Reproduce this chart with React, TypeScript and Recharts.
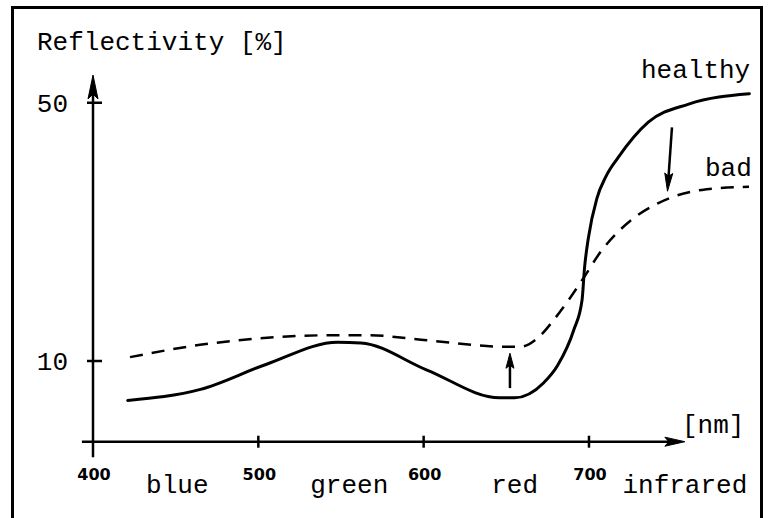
import React from "react";
import { LineChart, Line, XAxis, YAxis, ReferenceLine } from "recharts";

// ---- data ----
const wavelengthTicks = [400, 500, 600, 700];
const reflectTicks = [10, 50];
const bandNames = ["blue", "green", "red", "infrared"];
const bandCenters = [451, 555, 655, 758];

const healthyNm = [421, 465, 505, 548, 562, 602, 646, 655, 672.5, 681, 690.8, 695.8, 697.3, 699.6, 704.8, 710.3, 717.6, 735.9, 760.3, 797];
const healthyPct = [3.9, 5.6, 9.5, 12.9, 12.8, 8.6, 4.3, 4.3, 6.6, 9.3, 14.8, 19.4, 24.4, 29.0, 35.2, 38.6, 41.5, 47.0, 49.8, 51.4];

const badNm = [422.4, 464.7, 547.6, 565.7, 602, 650.4, 658.3, 670.4, 678.8, 686.7, 695.8, 707.3, 725.4, 742.3, 768.3, 796.8];
const badPct = [10.6, 12.5, 14.0, 14.0, 13.2, 12.2, 12.2, 13.9, 16.4, 19.1, 22.5, 27.0, 31.8, 34.5, 36.5, 37.0];

const xDomain = [400, 800];
const yDomain = [-2.5, 54.3];
// axis extents (data units)
const xAxisFrom = 393.3;
const xAxisTo = 758;
const yAxisFrom = -4.9;
const yAxisTo = 54.3;
// annotation arrows (data units)
const downArrow = [{ x: 750.2, y: 46.2 }, { x: 747.5, y: 36.3 }];
const upArrow = [{ x: 652.2, y: 5.8 }, { x: 652.2, y: 11.2 }];

const healthyData = healthyNm.map((nm, i) => ({ nm, r: healthyPct[i] }));
const badData = badNm.map((nm, i) => ({ nm, r: badPct[i] }));
const allXTicks = [...wavelengthTicks, ...bandCenters].sort((a, b) => a - b);

const MONO = "'Liberation Mono', 'DejaVu Sans Mono', monospace";

const makeArrow = (len: number, half: number, notch: number, w: number) => (props: any) => {
  const { x1, y1, x2, y2 } = props;
  const dx = x2 - x1;
  const dy = y2 - y1;
  const L = Math.hypot(dx, dy) || 1;
  const ux = dx / L;
  const uy = dy / L;
  const bx = x2 - ux * len;
  const by = y2 - uy * len;
  const nx = x2 - ux * (len - notch);
  const ny = y2 - uy * (len - notch);
  const px = -uy * half;
  const py = ux * half;
  return (
    <g>
      <line x1={x1} y1={y1} x2={nx} y2={ny} stroke="#000" strokeWidth={w} />
      <polygon
        points={`${x2},${y2} ${bx + px},${by + py} ${nx},${ny} ${bx - px},${by - py}`}
        fill="#000"
        stroke="#000"
        strokeWidth={1}
        strokeLinejoin="round"
      />
    </g>
  );
};

const YTick = (props: any) => {
  const { x, y, payload } = props;
  return (
    <g>
      <line x1={x - 6} x2={x + 9} y1={y} y2={y} stroke="#000" strokeWidth={2.5} />
      <text x={x - 25} y={y + 9} textAnchor="end" fontFamily={MONO} fontSize={26} fill="#000">
        {payload.value}
      </text>
    </g>
  );
};

const XTick = (props: any) => {
  const { x, y, payload } = props;
  const v = payload.value;
  const bi = bandCenters.indexOf(v);
  if (bi >= 0) {
    return (
      <text x={x} y={y + 51} textAnchor="middle" fontFamily={MONO} fontSize={26} fill="#000">
        {bandNames[bi]}
      </text>
    );
  }
  return (
    <g>
      {v !== wavelengthTicks[0] && (
        <line x1={x} x2={x} y1={y - 6} y2={y + 6} stroke="#000" strokeWidth={2.5} />
      )}
      <text
        x={x + 1}
        y={y + 38}
        textAnchor="middle"
        fontFamily="'DejaVu Sans', sans-serif"
        fontWeight="bold"
        fontSize={16}
        fill="#000"
      >
        {v}
      </text>
    </g>
  );
};

export default function App() {
  return (
    <div style={{ position: "absolute", left: 0, top: 0, width: 770, height: 518, overflow: "hidden", background: "#fff" }}>
      <div
        style={{
          position: "absolute",
          left: 11,
          top: 6,
          width: 752,
          height: 512,
          boxSizing: "border-box",
          borderTop: "3px solid #000",
          borderLeft: "3px solid #000",
          borderRight: "3px solid #000",
        }}
      />
      <div style={{ position: "absolute", left: 0, top: 0 }}>
        <LineChart width={770} height={518} margin={{ top: 75, right: 15.7, bottom: 46.3, left: 63 }}>
          <XAxis
            dataKey="nm"
            type="number"
            domain={xDomain}
            allowDataOverflow
            ticks={allXTicks}
            interval={0}
            height={30}
            axisLine={false}
            tickLine={false}
            tickSize={0}
            tickMargin={0}
            tick={<XTick />}
          />
          <YAxis
            type="number"
            domain={yDomain}
            allowDataOverflow
            ticks={reflectTicks}
            interval={0}
            width={30}
            axisLine={false}
            tickLine={false}
            tickSize={0}
            tickMargin={0}
            tick={<YTick />}
          />
          <ReferenceLine
            segment={[{ x: xAxisFrom, y: yDomain[0] }, { x: xAxisTo, y: yDomain[0] }]}
            ifOverflow="visible"
            shape={makeArrow(20, 4.5, 4, 2.5)}
          />
          <ReferenceLine
            segment={[{ x: wavelengthTicks[0], y: yAxisFrom }, { x: wavelengthTicks[0], y: yAxisTo }]}
            ifOverflow="visible"
            shape={makeArrow(24, 5, 5, 2.5)}
          />
          <ReferenceLine segment={downArrow} ifOverflow="visible" shape={makeArrow(18, 4, 3, 2.5)} />
          <ReferenceLine segment={upArrow} ifOverflow="visible" shape={makeArrow(15, 4, 3, 2.5)} />
          <Line
            data={badData}
            dataKey="r"
            type="monotone"
            stroke="#000"
            strokeWidth={2.5}
            strokeDasharray="13 9"
            dot={false}
            activeDot={false}
            isAnimationActive={false}
          />
          <Line
            data={healthyData}
            dataKey="r"
            type="monotone"
            stroke="#000"
            strokeWidth={3}
            strokeLinecap="round"
            dot={false}
            activeDot={false}
            isAnimationActive={false}
          />
          <text x={37} y={50} fontFamily={MONO} fontSize={26} fill="#000">Reflectivity [%]</text>
          <text x={641} y={78} fontFamily={MONO} fontSize={26} fill="#000">healthy</text>
          <text x={705} y={176} fontFamily={MONO} fontSize={26} fill="#000">bad</text>
          <text x={682} y={433} fontFamily={MONO} fontSize={26} fill="#000">[nm]</text>
        </LineChart>
      </div>
    </div>
  );
}
